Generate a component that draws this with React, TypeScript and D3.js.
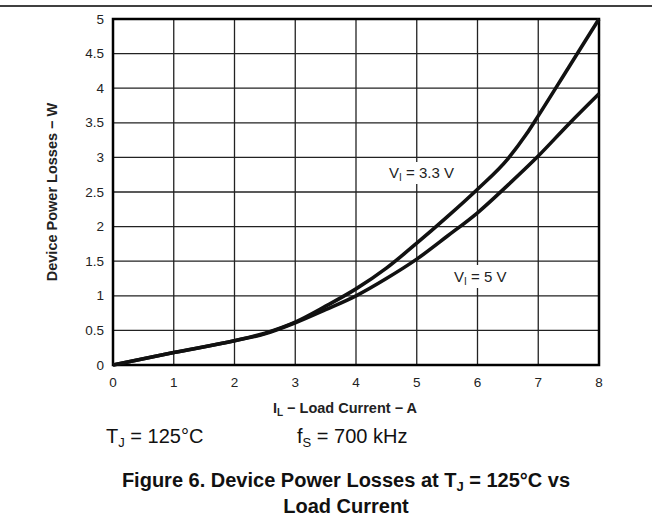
import React from "react";
import * as d3 from "d3";

const xTicks = [0, 1, 2, 3, 4, 5, 6, 7, 8];
const yTicks = [0, 0.5, 1, 1.5, 2, 2.5, 3, 3.5, 4, 4.5, 5];
const yTickLabels = ["0", "0.5", "1", "1.5", "2", "2.5", "3", "3.5", "4", "4.5", "5"];

const loadCurrent33 = [0, 1, 2, 2.5, 3, 3.5, 4, 4.5, 5, 5.5, 6, 6.5, 6.8, 7, 7.5, 8];
const loss33 = [0, 0.18, 0.35, 0.46, 0.62, 0.85, 1.1, 1.4, 1.76, 2.14, 2.54, 2.98, 3.33, 3.6, 4.3, 5.0];

const loadCurrent5 = [0, 1, 2, 2.5, 3, 3.5, 4, 4.5, 5, 5.5, 6, 6.5, 7, 7.5, 8];
const loss5 = [0, 0.18, 0.35, 0.45, 0.61, 0.8, 1.0, 1.25, 1.53, 1.86, 2.2, 2.6, 3.02, 3.48, 3.92];

const FONT = "Liberation Sans, Arial, sans-serif";

export default function App() {
  const left = 113, right = 599, top = 19, bottom = 365;
  const x = d3.scaleLinear().domain([0, 8]).range([left, right]);
  const y = d3.scaleLinear().domain([0, 5]).range([bottom, top]);
  const line = d3.line<[number, number]>()
    .x((d) => x(d[0]))
    .y((d) => y(d[1]))
    .curve(d3.curveMonotoneX);
  const d33 = line(loadCurrent33.map((v, i) => [v, loss33[i]] as [number, number])) || "";
  const d5 = line(loadCurrent5.map((v, i) => [v, loss5[i]] as [number, number])) || "";

  return (
    <svg width={652} height={518} style={{ position: "absolute", left: 0, top: 0, background: "#fff" }} fontFamily={FONT}>
      <rect x={0} y={0} width={652} height={518} fill="#fff" />
      <line x1={0} x2={652} y1={6} y2={6} stroke="#000" strokeWidth={1.6} />
      {xTicks.map((t) => (
        <line key={"gx" + t} x1={x(t)} x2={x(t)} y1={top} y2={bottom} stroke="#222" strokeWidth={1.3} />
      ))}
      {yTicks.map((t) => (
        <line key={"gy" + t} x1={left} x2={right} y1={y(t)} y2={y(t)} stroke="#222" strokeWidth={1.3} />
      ))}
      <rect x={left} y={top} width={right - left} height={bottom - top} fill="none" stroke="#000" strokeWidth={2.5} />
      {yTicks.map((t, i) => (
        <text key={"ty" + t} x={104} y={y(t) + 4.5} fontSize={13.5} textAnchor="end" fill="#222">{yTickLabels[i]}</text>
      ))}
      {xTicks.map((t) => (
        <text key={"tx" + t} x={x(t)} y={387} fontSize={13.5} textAnchor="middle" fill="#222">{t}</text>
      ))}
      <path d={d5} fill="none" stroke="#111" strokeWidth={3.6} strokeLinejoin="round" />
      <path d={d33} fill="none" stroke="#111" strokeWidth={3.6} strokeLinejoin="round" />
      <rect x={386} y={162} width={78} height={22} fill="#fff" />
      <text x={389} y={178} fontSize={15} fill="#222">
        V<tspan fontSize={10} dy={3}>I</tspan><tspan dy={-3}> = 3.3 V</tspan>
      </text>
      <rect x={451} y={265} width={62} height={23} fill="#fff" />
      <text x={454} y={282} fontSize={15} fill="#222">
        V<tspan fontSize={10} dy={3}>I</tspan><tspan dy={-3}> = 5 V</tspan>
      </text>
      <text x={345} y={413} fontSize={14.5} fontWeight="bold" textAnchor="middle" fill="#222">
        I<tspan fontSize={10} dy={3}>L</tspan><tspan dy={-3}> − Load Current − A</tspan>
      </text>
      <text transform={`translate(57,${(top + bottom) / 2}) rotate(-90)`} fontSize={14.5} fontWeight="bold" textAnchor="middle" fill="#222">
        Device Power Losses − W
      </text>
      <text x={106} y={443} fontSize={20} fill="#111">
        T<tspan fontSize={13} dy={4}>J</tspan><tspan dy={-4}> = 125°C</tspan>
      </text>
      <text x={297} y={443} fontSize={20} fill="#111">
        f<tspan fontSize={13} dy={4}>S</tspan><tspan dy={-4}> = 700 kHz</tspan>
      </text>
      <text x={346} y={487} fontSize={20} fontWeight="bold" textAnchor="middle" fill="#111">
        Figure 6. Device Power Losses at T<tspan fontSize={13} dy={4}>J</tspan><tspan dy={-4}> = 125°C vs</tspan>
      </text>
      <text x={346} y={513} fontSize={20} fontWeight="bold" textAnchor="middle" fill="#111">
        Load Current
      </text>
    </svg>
  );
}
